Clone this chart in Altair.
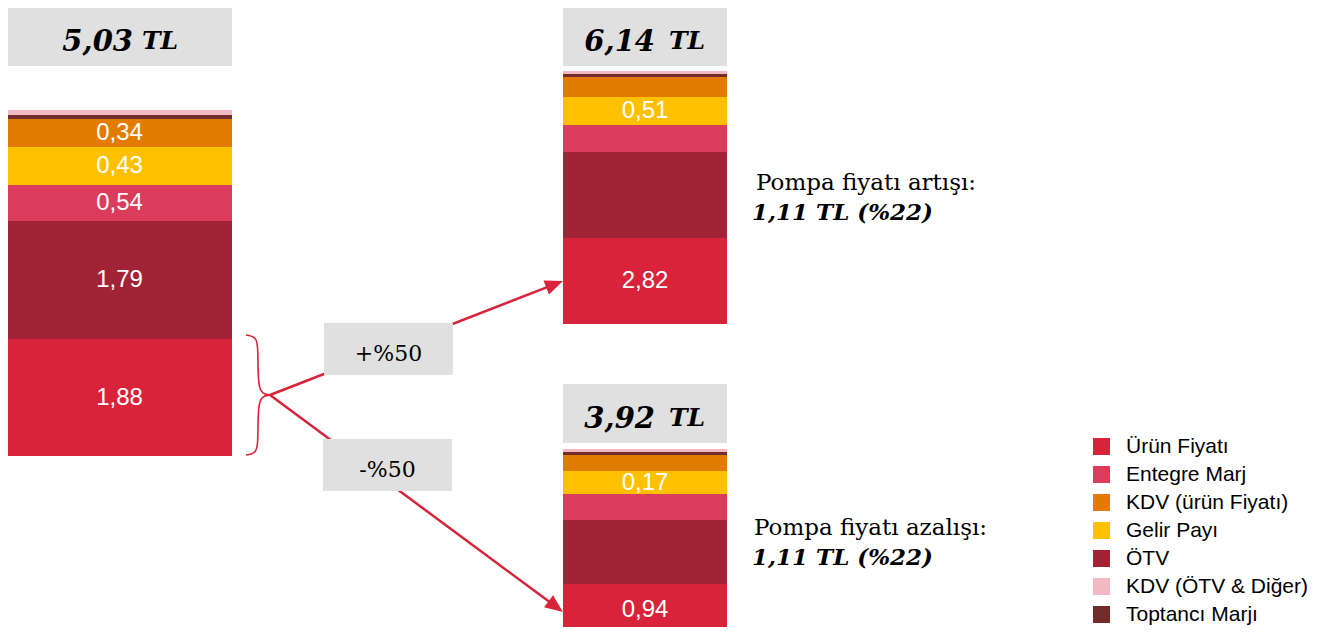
import altair as alt
import pandas as pd
import numpy as np

# ---------------- data ----------------
# legend order
categories = ["Ürün Fiyatı", "Entegre Marj", "KDV (ürün Fiyatı)", "Gelir Payı",
              "ÖTV", "KDV (ÖTV & Diğer)", "Toptancı Marjı"]
colors = ["#d9233b", "#dc3c5c", "#e37b00", "#ffc000", "#a32336", "#f2b9c2", "#722c2b"]

# stacking order, bottom -> top
stack_order = ["Ürün Fiyatı", "ÖTV", "Entegre Marj", "Gelir Payı",
               "KDV (ürün Fiyatı)", "Toptancı Marjı", "KDV (ÖTV & Diğer)"]

# segment heights as drawn in the picture (layout units), per scenario
seg_current = [117, 118, 36, 38, 28, 4, 5]
seg_up = [86, 86, 27, 28, 20, 3, 3]
seg_down = [51, 64, 26, 23, 16, 3, 3]

labels_current = ["1,88", "1,79", "0,54", "0,43", "0,34", "", ""]
labels_up = ["2,82", "", "", "0,51", "", "", ""]
labels_down = ["0,94", "", "", "0,17", "", "", ""]

totals = ["5,03", "6,14", "3,92"]
unit = "TL"

# layout of the three bars (layout units, top-down)
bar_left = [7, 563, 563]
bar_right = [232, 727, 727]
bar_bottom = [456, 324, 635]
header_top = [7, 7, 384]
header_bottom = [66, 66, 443]
num_right = [133, 655, 655]
tl_left = [142, 669, 669]
num_base = [51, 51, 428]
tl_base = [49, 49, 426]

# change boxes / arrows
pct_text = ["+%50", "-%50"]
pct_x1 = [324, 323]
pct_x2 = [453, 452]
pct_y1 = [323, 439]
pct_y2 = [375, 491]
pct_base = [361, 477]
arrow_start = (270, 395)
arrow_tip_x = [563, 563]
arrow_tip_y = [281, 612]

# brace control points (two halves)
brace_up_x = [246, 257, 258, 258, 262, 270]
brace_up_y = [335, 337, 350, 385, 394, 395]
brace_dn_x = [270, 262, 258, 258, 257, 246]
brace_dn_y = [395, 396, 405, 440, 453, 455]

# side notes
note_line1 = ["Pompa fiyatı artışı:", "Pompa fiyatı azalışı:"]
note_line2 = ["1,11 TL (%22)", "1,11 TL (%22)"]
note_x1 = [756, 754]
note_x2 = [752, 752]
note_y1 = [190, 535]
note_y2 = [220, 565]

# ---------------- tables ----------------
rows = []
for b, (segs, labs) in enumerate([(seg_current, labels_current),
                                  (seg_up, labels_up),
                                  (seg_down, labels_down)]):
    base = bar_bottom[b]
    for cat, h, lab in zip(stack_order, segs, labs):
        rows.append(dict(bar=b, cat=cat, x1=bar_left[b], x2=bar_right[b],
                         y1=base, y2=base - h, ym=base - h / 2,
                         xm=(bar_left[b] + bar_right[b]) / 2, label=lab))
        base -= h
seg_df = pd.DataFrame(rows)
lab_df = seg_df[seg_df.label != ""]

hdr_df = pd.DataFrame(dict(x1=bar_left, x2=bar_right, y1=header_top, y2=header_bottom,
                           nx=num_right, tx=tl_left, ny=num_base, ty=tl_base,
                           num=totals, unit=[unit] * 3))

pct_df = pd.DataFrame(dict(x1=pct_x1, x2=pct_x2, y1=pct_y1, y2=pct_y2, t=pct_text,
                           xc=[(a + b) / 2 for a, b in zip(pct_x1, pct_x2)], yb=pct_base))

ax = np.array(arrow_tip_x, float)
ay = np.array(arrow_tip_y, float)
dx = ax - arrow_start[0]
dy = ay - arrow_start[1]
ln = np.hypot(dx, dy)
arr_df = pd.DataFrame(dict(x1=[arrow_start[0]] * 2, y1=[arrow_start[1]] * 2,
                           x2=ax - dx / ln * 12, y2=ay - dy / ln * 12,
                           tx=ax, ty=ay, ang=np.degrees(np.arctan2(dy, dx)) % 360))

brace_df = pd.DataFrame(dict(
    x=brace_up_x + brace_dn_x, y=brace_up_y + brace_dn_y,
    half=["u"] * len(brace_up_x) + ["d"] * len(brace_dn_x),
    i=list(range(len(brace_up_x))) + list(range(len(brace_dn_x)))))

note_df = pd.DataFrame(dict(x1=note_x1, x2=note_x2, y1=note_y1, y2=note_y2,
                            t1=note_line1, t2=note_line2))

# ---------------- scales ----------------
XS = alt.Scale(domain=[8, 1323], nice=False, zero=False)
YS = alt.Scale(domain=[8, 627], nice=False, zero=False, reverse=True)


def X(f):
    return alt.X(f, type="quantitative", scale=XS, axis=None)


def Y(f):
    return alt.Y(f, type="quantitative", scale=YS, axis=None)


RED = "#d9233b"
GRAY = "#e0e0e0"
SERIF = "DejaVu Serif"
SANS = "Liberation Sans"

bars = alt.Chart(seg_df).mark_rect().encode(
    x=X("x1"), x2="x2", y=Y("y1"), y2="y2",
    color=alt.Color("cat:N", scale=alt.Scale(domain=categories, range=colors),
                    legend=alt.Legend(title=None, orient="none", legendX=1083, legendY=428,
                                      symbolType="square", symbolSize=289,
                                      symbolStrokeWidth=0, labelFont=SANS,
                                      labelFontSize=21, labelColor="#000",
                                      labelOffset=14, rowPadding=6, padding=0,
                                      labelLimit=400)))

bar_labels = alt.Chart(lab_df).mark_text(font=SANS, fontSize=24, color="white",
                                         baseline="middle", align="center").encode(
    x=X("xm"), y=Y("ym"), text="label:N")

headers = alt.Chart(hdr_df).mark_rect(color=GRAY).encode(
    x=X("x1"), x2="x2", y=Y("y1"), y2="y2")
hdr_num = alt.Chart(hdr_df).mark_text(font=SERIF, fontSize=29, fontWeight="bold",
                                      fontStyle="italic", align="right",
                                      baseline="alphabetic", color="black").encode(
    x=X("nx"), y=Y("ny"), text="num:N")
hdr_tl = alt.Chart(hdr_df).mark_text(font=SERIF, fontSize=25, fontWeight="bold",
                                     fontStyle="italic", align="left",
                                     baseline="alphabetic", color="black").encode(
    x=X("tx"), y=Y("ty"), text="unit:N")

arrows = alt.Chart(arr_df).mark_rule(color=RED, strokeWidth=2.5).encode(
    x=X("x1"), x2="x2", y=Y("y1"), y2="y2")
heads = alt.Chart(arr_df).mark_point(shape="M0,0 L-1,-0.42 L-1,0.42 Z", filled=True,
                                     color=RED, opacity=1, size=1296).encode(
    x=X("tx"), y=Y("ty"), angle=alt.Angle("ang:Q", scale=None))

brace = alt.Chart(brace_df).mark_line(color=RED, strokeWidth=1.6, interpolate="basis").encode(
    x=X("x"), y=Y("y"), detail="half:N", order="i:Q")

pct_box = alt.Chart(pct_df).mark_rect(color=GRAY).encode(
    x=X("x1"), x2="x2", y=Y("y1"), y2="y2")
pct_txt = alt.Chart(pct_df).mark_text(font=SERIF, fontSize=22, color="black",
                                      align="center", baseline="alphabetic").encode(
    x=X("xc"), y=Y("yb"), text="t:N")

note1 = alt.Chart(note_df).mark_text(font=SERIF, fontSize=23, color="black",
                                     align="left", baseline="alphabetic").encode(
    x=X("x1"), y=Y("y1"), text="t1:N")
note2 = alt.Chart(note_df).mark_text(font=SERIF, fontSize=23, fontWeight="bold",
                                     fontStyle="italic", color="black",
                                     align="left", baseline="alphabetic").encode(
    x=X("x2"), y=Y("y2"), text="t2:N")

chart = alt.layer(
    arrows, heads, brace, bars, bar_labels, headers, hdr_num, hdr_tl,
    pct_box, pct_txt, note1, note2
).properties(
    width=1315, height=619, padding=0, background="white",
    autosize=alt.AutoSizeParams(type="none")
).configure_view(strokeWidth=0, stroke="transparent")

chart.save("out.html", embed_options={"renderer": "svg", "actions": False})
